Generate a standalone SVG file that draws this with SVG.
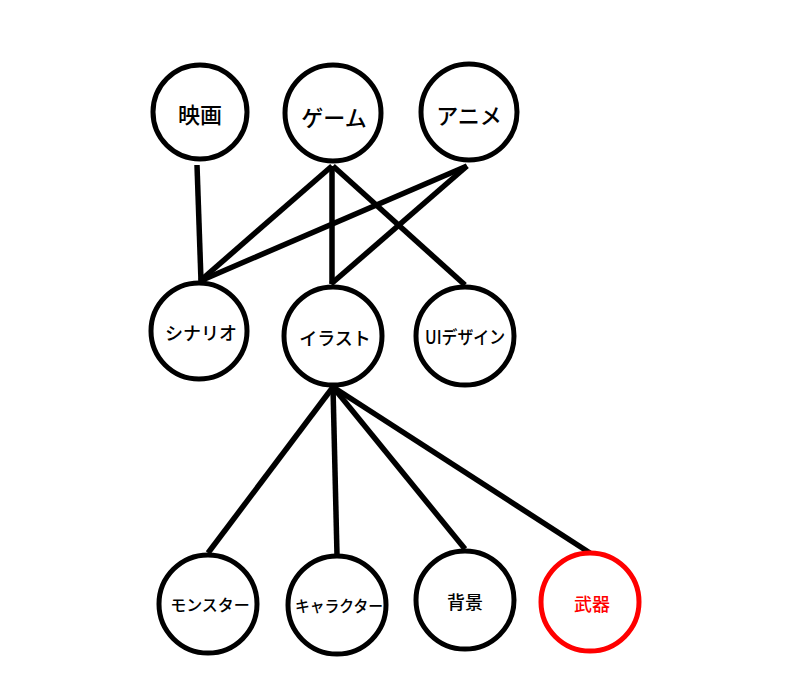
<svg xmlns="http://www.w3.org/2000/svg" width="800" height="700" viewBox="0 0 800 700">
<style>
.n{fill:#fff;stroke:#000;stroke-width:5}
.red{stroke:#ff0000}
.e{stroke:#000;stroke-width:5.5;fill:none}
text{font-family:"Noto Sans CJK JP","Noto Sans",sans-serif;text-anchor:middle;dominant-baseline:central;fill:#000;font-weight:500}
.t1{font-size:22px}
.t2{font-size:18px}
.t3{font-size:16px}
.rt{fill:#ff0000}
</style>
<rect width="800" height="700" fill="#fff"/>
<g id="connectors">
<line class="e" x1="197" y1="165" x2="201" y2="281"/>
<line class="e" x1="332" y1="166" x2="200" y2="281"/>
<line class="e" x1="332" y1="166" x2="332" y2="284"/>
<line class="e" x1="333" y1="166" x2="465" y2="285"/>
<line class="e" x1="467" y1="166" x2="200" y2="281"/>
<line class="e" x1="467" y1="166" x2="331" y2="284"/>
<line class="e" x1="333" y1="387" x2="208" y2="553"/>
<line class="e" x1="333" y1="387" x2="337" y2="555"/>
<line class="e" x1="333" y1="387" x2="465" y2="549"/>
<line class="e" x1="333" y1="387" x2="590" y2="553"/>
</g>
<g id="eiga"><circle class="n" cx="200" cy="112" r="47"/><text class="t1" x="200" y="113">映画</text></g>
<g id="game"><circle class="n" cx="333" cy="113" r="48"/><text class="t1" x="334" y="116">ゲーム</text></g>
<g id="anime"><circle class="n" cx="469" cy="112" r="48"/><text class="t1" x="469" y="114">アニメ</text></g>
<g id="scenario"><circle class="n" cx="199" cy="331" r="48"/><text class="t2" x="201" y="332">シナリオ</text></g>
<g id="illust"><circle class="n" cx="333" cy="336" r="49"/><text class="t2" x="335" y="337">イラスト</text></g>
<g id="uidesign"><circle class="n" cx="465" cy="336" r="49"/><text class="t2" x="465" y="336" textLength="80" lengthAdjust="spacingAndGlyphs">UIデザイン</text></g>
<g id="monster"><circle class="n" cx="208" cy="604" r="49"/><text class="t3" x="210" y="604">モンスター</text></g>
<g id="character"><circle class="n" cx="337" cy="605" r="49"/><text class="t3" x="339" y="605" textLength="88" lengthAdjust="spacingAndGlyphs">キャラクター</text></g>
<g id="haikei"><circle class="n" cx="465" cy="600" r="49"/><text class="t2" x="465" y="601">背景</text></g>
<g id="buki"><circle class="n red" cx="590" cy="602" r="49"/><text class="t2 rt" x="592" y="603">武器</text></g>
</svg>
